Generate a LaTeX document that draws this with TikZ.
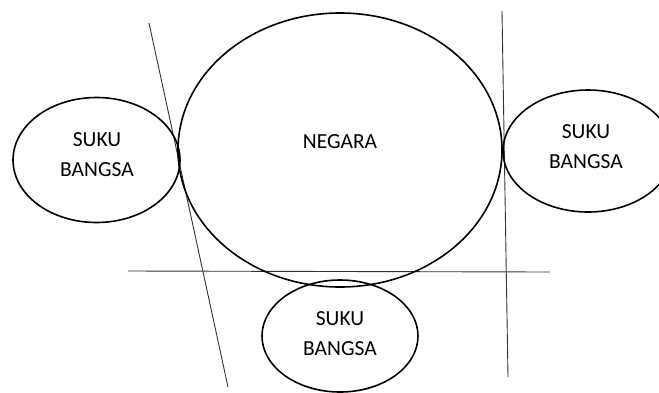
\documentclass[tikz,border=0pt]{standalone}
\usepackage{fontspec}
\setmainfont{Carlito}
\begin{document}
\begin{tikzpicture}[x=1pt,y=-1pt,
  oval/.style={draw=black,line width=1.6pt},
  guide/.style={draw=black!80,line width=0.9pt},
  lbl/.style={font=\fontsize{21.5}{30}\selectfont,align=center,inner sep=0pt}]
\useasboundingbox (0,0) rectangle (659,392);
\fill[white] (0,0) rectangle (659,392);
\begin{scope}
\clip (0,0) rectangle (659,392);
% lines
\coordinate (l1a) at (149,23); \coordinate (l1b) at (228,387);
\coordinate (l2a) at (502,11); \coordinate (l2b) at (508,377);
\coordinate (l3a) at (128,271); \coordinate (l3b) at (550,272);
\draw[guide] (l1a) -- (l1b);
\draw[guide] (l2a) -- (l2b);
\draw[guide] (l3a) -- (l3b);
% ellipses
\draw[oval] (340,150) ellipse [x radius=162, y radius=137];
\draw[oval] (96.5,160) ellipse [x radius=83.5, y radius=62.5];
\draw[oval] (588,151) ellipse [x radius=85, y radius=61];
\draw[oval] (340,336) ellipse [x radius=78, y radius=56];
\end{scope}
% labels
\node[lbl] (negara) at (340,142) {NEGARA};
\node[lbl] (sbl) at (97,155) {SUKU\\BANGSA};
\node[lbl] (sbr) at (586,147) {SUKU\\BANGSA};
\node[lbl] (sbb) at (340,334) {SUKU\\BANGSA};
\end{tikzpicture}
\end{document}
